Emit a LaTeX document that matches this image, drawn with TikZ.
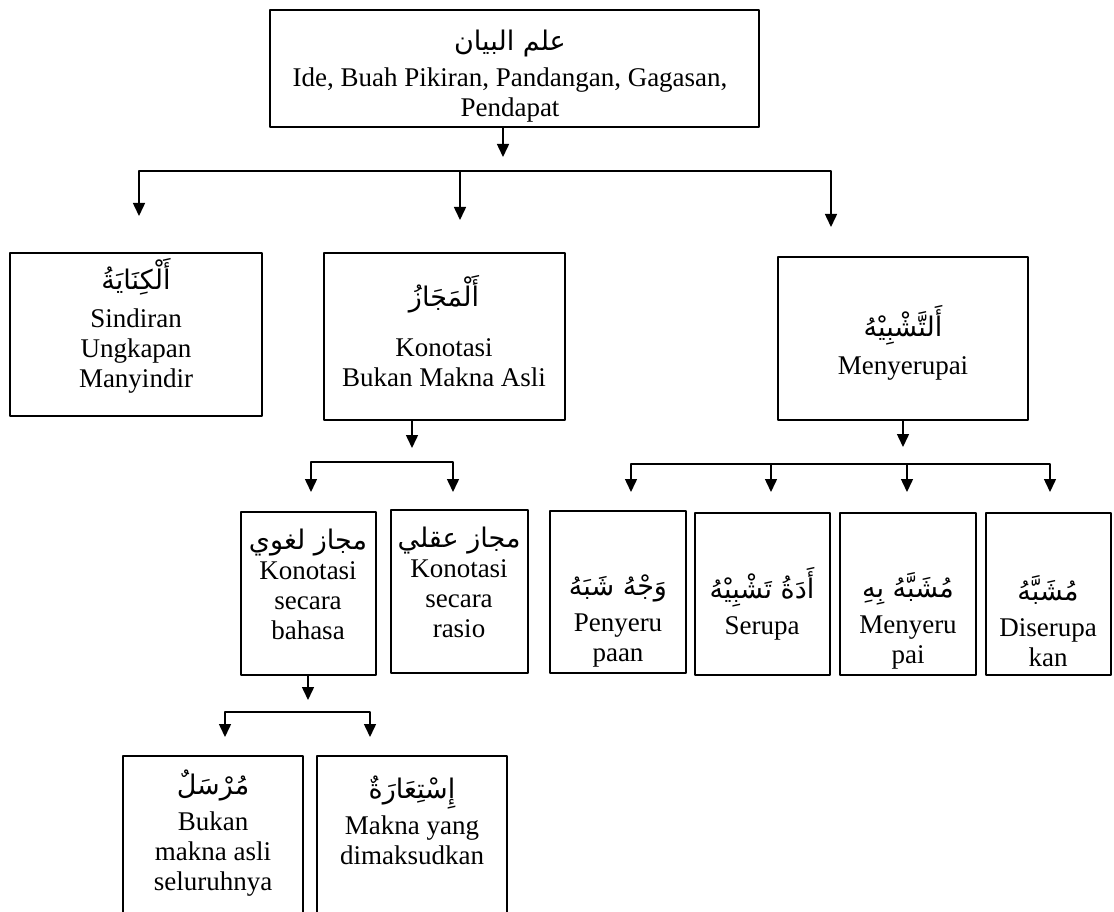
\documentclass[tikz,border=0pt]{standalone}
\usepackage{fontspec}
\setmainfont{Liberation Serif}
\newfontfamily\arabicfont[Script=Arabic]{DejaVu Sans}
\TeXXeTstate=1
\usetikzlibrary{arrows.meta}
\newcommand{\artxt}[1]{{\arabicfont\fontsize{27}{32}\selectfont\beginR #1\endR}}
\begin{document}
\begin{tikzpicture}[x=1pt, y=-1pt, line join=round, >={Triangle[length=13pt,width=12pt]},
    box/.style={draw, line width=1.5pt, inner sep=0pt},
    txt/.style={align=center, inner sep=0pt, font=\fontsize{27}{30}\selectfont},
    conn/.style={->, line width=1.5pt},
    fork/.style={<->, line width=1.5pt}]
    \useasboundingbox (0,0) rectangle (1114,912);
    % boxes
    \node[box, minimum width=489pt, minimum height=117pt] (bayan) at (514.5,68.5) {};
    \node[box, minimum width=252pt, minimum height=163pt] (kinayah) at (136,334.5) {};
    \node[box, minimum width=241pt, minimum height=167pt] (majaz) at (444.5,336.5) {};
    \node[box, minimum width=250pt, minimum height=163pt] (tasybih) at (903,338.5) {};
    \node[box, minimum width=135pt, minimum height=163pt] (lughawi) at (308.5,593.5) {};
    \node[box, minimum width=137pt, minimum height=163pt] (aqli) at (459.5,591.5) {};
    \node[box, minimum width=136pt, minimum height=162pt] (wajh) at (618,592) {};
    \node[box, minimum width=135pt, minimum height=162pt] (adat) at (762.5,594) {};
    \node[box, minimum width=136pt, minimum height=162pt] (musyabbahbih) at (908,594) {};
    \node[box, minimum width=125pt, minimum height=162pt] (musyabbah) at (1048.5,594) {};
    \node[box, minimum width=180pt, minimum height=180pt] (mursal) at (213,846) {};
    \node[box, minimum width=190pt, minimum height=180pt] (istiarah) at (412,846) {};
    % texts
    \node[txt] (bayan-t) at (510,76) {\artxt{علم البيان}\\[6pt]Ide, Buah Pikiran, Pandangan, Gagasan,\\Pendapat};
    \node[txt] (kinayah-t) at (136,326) {\artxt{أَلْكِنَايَةُ}\\[8pt]Sindiran\\Ungkapan\\Manyindir};
    \node[txt] (majaz-t) at (444,331) {\artxt{أَلْمَجَازُ}\\[20pt]Konotasi\\Bukan Makna Asli};
    \node[txt] (tasybih-t) at (903,343) {\artxt{أَلتَّشْبِيْهُ}\\[8pt]Menyerupai};
    \node[txt] (lughawi-t) at (308,584) {\artxt{مجاز لغوي}\\Konotasi\\secara\\bahasa};
    \node[txt] (aqli-t) at (459,582) {\artxt{مجاز عقلي}\\Konotasi\\secara\\rasio};
    \node[txt] (wajh-t) at (618,621) {\artxt{وَجْهُ شَبَهُ}\\[6pt]Penyeru\\paan};
    \node[txt] (adat-t) at (762,604) {\artxt{أَدَةُ تَشْبِيْهُ}\\[6pt]Serupa};
    \node[txt] (musyabbahbih-t) at (908,621) {\artxt{مُشَبَّهُ بِهِ}\\[6pt]Menyeru\\pai};
    \node[txt] (musyabbah-t) at (1048,621) {\artxt{مُشَبَّهُ}\\[6pt]Diserupa\\kan};
    \node[txt] (mursal-t) at (213,833) {\artxt{مُرْسَلٌ}\\[6pt]Bukan\\makna asli\\seluruhnya};
    \node[txt] (istiarah-t) at (412,820) {\artxt{إِسْتِعَارَةٌ}\\[6pt]Makna yang\\dimaksudkan};
    % arrows from the top box
    \coordinate (a0) at (503,157);
    \coordinate (h0) at (0,171);
    \coordinate (a1) at (139,216);
    \coordinate (a2) at (460,220);
    \coordinate (a3) at (831,227);
    \draw[conn] (bayan.south -| a0) -- (a0);
    \draw[fork] (a1) -- (a1 |- h0) -- (a3 |- h0) -- (a3);
    \draw[conn] (a2 |- h0) -- (a2);
    % arrows from majaz
    \coordinate (m0) at (412,448);
    \coordinate (hm) at (0,462);
    \coordinate (m1) at (311,492);
    \coordinate (m2) at (453,492);
    \draw[conn] (majaz.south -| m0) -- (m0);
    \draw[fork] (m1) -- (m1 |- hm) -- (m2 |- hm) -- (m2);
    % arrows from tasybih
    \coordinate (s0) at (903,447);
    \coordinate (hs) at (0,464);
    \coordinate (s1) at (631,492);
    \coordinate (s2) at (771,492);
    \coordinate (s3) at (907,492);
    \coordinate (s4) at (1050,492);
    \draw[conn] (tasybih.south -| s0) -- (s0);
    \draw[fork] (s1) -- (s1 |- hs) -- (s4 |- hs) -- (s4);
    \foreach \i in {2,3} \draw[conn] (s\i |- hs) -- (s\i);
    % arrows from majaz lughawi
    \coordinate (l0) at (308,700);
    \coordinate (hl) at (0,712);
    \coordinate (l1) at (225,737);
    \coordinate (l2) at (370,737);
    \draw[conn] (lughawi.south -| l0) -- (l0);
    \draw[fork] (l1) -- (l1 |- hl) -- (l2 |- hl) -- (l2);
\end{tikzpicture}
\end{document}
